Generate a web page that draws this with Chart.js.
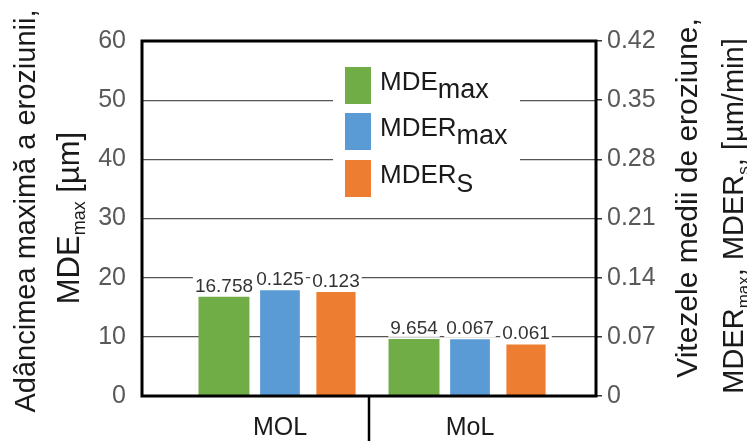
<!DOCTYPE html>
<html>
<head>
<meta charset="utf-8">
<script src="https://cdn.jsdelivr.net/npm/chart.js@4/dist/chart.umd.min.js"></script>
<style>
  html, body { margin: 0; padding: 0; background: #ffffff; }
  #wrap { width: 747px; height: 441px; }
</style>
</head>
<body>
<div id="wrap"><canvas id="c" width="747" height="441"></canvas></div>
<script>
// Samples and measured values
const categories = ['MOL', 'MoL'];
const mdeMax  = [16.758, 9.654];   // maximum erosion depth, µm (left axis)
const mderMax = [0.125, 0.067];    // max. mean erosion rate, µm/min (right axis)
const mderS   = [0.123, 0.061];    // stabilised mean erosion rate, µm/min (right axis)

// Axis ticks
const depthTicks = [0, 10, 20, 30, 40, 50, 60];
const rateTicks = [0, 0.07, 0.14, 0.21, 0.28, 0.35, 0.42];
const rateTickLabels = ['0', '0.07', '0.14', '0.21', '0.28', '0.35', '0.42'];

// Legend names: main text + subscript
const seriesNames = [['MDE', 'max'], ['MDER', 'max'], ['MDER', 'S']];
const seriesColors = ['#70ad47', '#5b9bd5', '#ed7d31'];

const FONT = '"Liberation Sans", Arial, sans-serif';

// Draws a run of text pieces, some as subscripts, on the given baseline
function drawRich(ctx, parts, baseline, size, subSize, subShift, align) {
  const fontOf = p => (p.sub ? subSize : size) + 'px ' + FONT;
  let total = 0;
  parts.forEach(p => { ctx.font = fontOf(p); p.w = ctx.measureText(p.t).width; total += p.w; });
  let x = align === 'left' ? 0 : -total / 2;
  ctx.textAlign = 'left';
  ctx.textBaseline = 'alphabetic';
  parts.forEach(p => {
    ctx.font = fontOf(p);
    ctx.fillText(p.t, x, baseline + (p.sub ? subShift : 0));
    x += p.w;
  });
}

const decor = {
  id: 'decor',
  afterDatasetsDraw(chart) {
    const ctx = chart.ctx;
    const a = chart.chartArea;
    ctx.save();

    // Legend panel inside the plot area
    ctx.fillStyle = '#ffffff';
    ctx.fillRect(333, 58, 187, 147);
    const rowTops = [67, 113, 160];
    seriesNames.forEach((n, i) => {
      ctx.fillStyle = seriesColors[i];
      ctx.fillRect(345, rowTops[i], 26, 37);
      ctx.fillStyle = '#1a1a1a';
      ctx.save();
      ctx.translate(380, 0);
      drawRich(ctx, [{ t: n[0] }, { t: n[1], sub: true }], rowTops[i] + 18.5 + 4.5, 26, n[1] === 'S' ? 25 : 27, n[1] === 'S' ? 9 : 8, 'left');
      ctx.restore();
    });

    // Value labels above each bar
    const valueSets = [mdeMax, mderMax, mderS];
    ctx.font = '19px ' + FONT;
    ctx.textAlign = 'center';
    ctx.textBaseline = 'alphabetic';
    chart.data.datasets.forEach((ds, di) => {
      const meta = chart.getDatasetMeta(di);
      meta.data.forEach((bar, i) => {
        const txt = String(valueSets[di][i]);
        const w = ctx.measureText(txt).width;
        const base = bar.y - 5;
        ctx.fillStyle = '#ffffff';
        ctx.fillRect(bar.x - w / 2 - 2, base - 16, w + 4, 19);
        ctx.fillStyle = '#333333';
        ctx.fillText(txt, bar.x, base);
      });
    });

    // Plot frame
    ctx.strokeStyle = '#000000';
    ctx.lineWidth = 3;
    ctx.strokeRect(a.left, a.top, a.right - a.left, a.bottom - a.top);

    // Separator between the two sample groups, below the axis
    const mid = (a.left + a.right) / 2;
    ctx.lineWidth = 2.5;
    ctx.beginPath();
    ctx.moveTo(mid, a.bottom);
    ctx.lineTo(mid, chart.height);
    ctx.stroke();

    // Axis titles (rotated, reading upwards)
    ctx.fillStyle = '#1a1a1a';
    const title = (cx, cy, parts, size, subSize) => {
      ctx.save();
      ctx.translate(cx, cy);
      ctx.rotate(-Math.PI / 2);
      drawRich(ctx, parts, size * 0.36, size, subSize || Math.round(size * 0.6), 6, 'center');
      ctx.restore();
    };
    title(25, 211, [{ t: 'Adâncimea maximă a eroziunii,' }], 29);
    title(68, 218, [{ t: 'MDE' }, { t: 'max', sub: true }, { t: ' [µm]' }], 31, 18);
    title(686, 198, [{ t: 'Vitezele medii de eroziune,' }], 30);
    title(733, 216, [{ t: 'MDER' }, { t: 'max', sub: true }, { t: ', MDER' }, { t: 's', sub: true }, { t: ', [µm/min]' }], 29);

    ctx.restore();
  }
};

const points = vals => categories.map((c, i) => ({ x: i, y: vals[i] }));

new Chart(document.getElementById('c'), {
  type: 'bar',
  data: {
    datasets: [
      { label: 'MDEmax', data: points(mdeMax), yAxisID: 'y', backgroundColor: seriesColors[0], barPercentage: 0.91 },
      { label: 'MDERmax', data: points(mderMax), yAxisID: 'y1', backgroundColor: seriesColors[1], barPercentage: 0.71 },
      { label: 'MDERs', data: points(mderS), yAxisID: 'y1', backgroundColor: seriesColors[2], barPercentage: 0.70 }
    ]
  },
  options: {
    responsive: false,
    animation: false,
    devicePixelRatio: 1,
    layout: { padding: { top: 41, left: 0, right: 0, bottom: 0 } },
    datasets: { bar: { categoryPercentage: 0.884 } },
    plugins: { legend: { display: false }, tooltip: { enabled: false } },
    scales: {
      x: {
        type: 'linear',
        offset: false,
        min: -0.726,
        max: 1.663,
        afterBuildTicks: s => { s.ticks = categories.map((c, i) => ({ value: i })); },
        afterFit: s => { s.height = 45; },
        grid: { display: false, drawTicks: false, offset: false },
        border: { display: false },
        ticks: {
          callback: v => categories[v] ?? '',
          font: { family: FONT, size: 25 },
          color: '#1a1a1a',
          padding: 17,
          maxRotation: 0,
          autoSkip: false
        }
      },
      y: {
        position: 'left',
        min: 0,
        max: 60,
        afterBuildTicks: s => { s.ticks = depthTicks.map(v => ({ value: v })); },
        afterFit: s => { s.width = 142; },
        grid: { color: '#555555', lineWidth: 1.3, drawTicks: false },
        border: { display: false },
        ticks: { font: { family: FONT, size: 25 }, color: '#595959', padding: 16 }
      },
      y1: {
        position: 'right',
        min: 0,
        max: 0.42,
        afterBuildTicks: s => { s.ticks = rateTicks.map(v => ({ value: v })); },
        afterFit: s => { s.width = 151; },
        grid: { drawOnChartArea: false, drawTicks: true, tickLength: 6, color: '#333333', lineWidth: 1.5 },
        border: { display: false },
        ticks: {
          callback: (v, i) => rateTickLabels[i],
          font: { family: FONT, size: 25 },
          color: '#595959',
          padding: 5
        }
      }
    }
  },
  plugins: [decor]
});
</script>
</body>
</html>
